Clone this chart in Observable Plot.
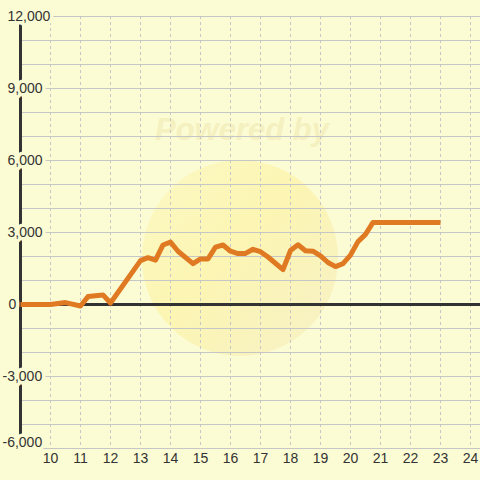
<!DOCTYPE html>
<html>
<head>
<meta charset="utf-8">
<script src="https://cdn.jsdelivr.net/npm/d3@7"></script>
<script src="https://cdn.jsdelivr.net/npm/@observablehq/plot@0.6"></script>
<style>
  html, body { margin: 0; padding: 0; background: #FCFCD4; }
  #wrap { position: relative; width: 480px; height: 480px; overflow: hidden; }
  #wm-circle { position: absolute; left: 142px; top: 160px; width: 196px; height: 196px; border-radius: 50%;
    background: linear-gradient(135deg, #FBF7BE 0%, #FCF3A8 45%, #F4EEC2 100%); opacity: 0.75; }
  #wm-text { position: absolute; left: 0; width: 484px; top: 112px; text-align: center;
    font: italic bold 31px "Liberation Sans", Arial, sans-serif; color: #F5F0C0; }
  #chart { position: absolute; left: 0; top: 0; }
</style>
</head>
<body>
<div id="wrap">
  <div id="wm-circle"></div>
  <div id="wm-text">Powered by</div>
  <div id="chart"></div>
</div>
<script>
// Data (hour of day, cumulative value)
const hours  = [9, 10, 10.5, 11, 11.25, 11.75, 12, 13, 13.25, 13.5, 13.75, 14, 14.25, 14.75, 15, 15.25, 15.5, 15.75, 16, 16.25, 16.5, 16.75, 17, 17.25, 17.75, 18, 18.25, 18.5, 18.75, 19, 19.25, 19.5, 19.75, 20, 20.25, 20.5, 20.75, 23];
const values = [0, 0, 80, -60, 330, 400, 60, 1830, 1950, 1850, 2480, 2600, 2220, 1700, 1900, 1900, 2390, 2480, 2220, 2120, 2130, 2300, 2200, 1980, 1450, 2250, 2490, 2240, 2220, 2030, 1750, 1580, 1700, 2060, 2620, 2920, 3420, 3420];

const xTicks = [10, 11, 12, 13, 14, 15, 16, 17, 18, 19, 20, 21, 22, 23, 24];
const yGrid  = [-6000, -5000, -4000, -3000, -2000, -1000, 0, 1000, 2000, 3000, 4000, 5000, 6000, 7000, 8000, 9000, 10000, 11000, 12000];
const yTickPos = [12000, 9000, 6000, 3000];
const yTickZero = [0];
const yTickNeg = [-3000];
const yTickBottom = [-6000];

const data = hours.map((h, i) => ({hour: h, value: values[i]}));
const fmt = d => d.toLocaleString("en-US");

const bg = "#FCFCD4";
const ink = "#333333";
const font = "Liberation Sans, Arial, sans-serif";
const labelOpts = {fill: ink, stroke: bg, strokeWidth: 7, paintOrder: "stroke", fontSize: 14, textAnchor: "start", frameAnchor: "left", text: fmt, y: d => d};

const chart = Plot.plot({
  width: 480,
  height: 480,
  marginLeft: 20,
  marginRight: 0,
  marginTop: 16,
  marginBottom: 32,
  style: {background: "transparent", fontFamily: font},
  x: {domain: [9, 24.3333], axis: null},
  y: {domain: [-6000, 12000], axis: null},
  marks: [
    Plot.ruleY(yGrid, {stroke: "#C6C6C6", strokeWidth: 1}),
    Plot.ruleX(xTicks, {stroke: "#C6C6C6", strokeWidth: 1, strokeDasharray: "3,3"}),
    Plot.ruleY([0], {stroke: ink, strokeWidth: 3}),
    Plot.ruleX([9], {stroke: ink, strokeWidth: 3}),
    Plot.line(data, {x: "hour", y: "value", stroke: "#E07A22", strokeWidth: 5, strokeLinejoin: "round", strokeLinecap: "butt"}),
    Plot.text(yTickPos, {...labelOpts, dx: -13}),
    Plot.text(yTickZero, {...labelOpts, dx: -12}),
    Plot.text(yTickNeg, {...labelOpts, dx: -18}),
    Plot.text(yTickBottom, {...labelOpts, dx: -18, dy: -6}),
    Plot.text(xTicks, {x: d => d, frameAnchor: "bottom", dy: 14, text: d => String(d), fill: ink, fontSize: 14})
  ]
});
document.getElementById("chart").appendChild(chart);
</script>
</body>
</html>
